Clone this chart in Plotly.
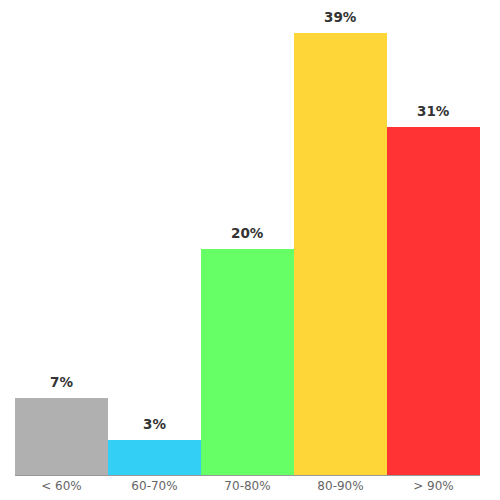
import plotly.graph_objects as go

# score bands and share of results (%)
bands = ["< 60%", "60-70%", "70-80%", "80-90%", "> 90%"]
shares = [6.8, 3.1, 20.0, 39.1, 30.8]
labels = ["7%", "3%", "20%", "39%", "31%"]
colors = ["#b0b0b0", "#33cff5", "#66ff66", "#ffd638", "#ff3333"]

fig = go.Figure(
    go.Bar(
        x=bands,
        y=shares,
        marker_color=colors,
        marker_line_width=0,
        hoverinfo="skip",
    )
)

# value labels sit a bit above each bar
for band, share, label in zip(bands, shares, labels):
    fig.add_annotation(
        x=band,
        y=share,
        text="<b>" + label + "</b>",
        showarrow=False,
        yanchor="bottom",
        yshift=6,
        font=dict(family="DejaVu Sans", size=13.5, color="#333333"),
    )

fig.update_xaxes(
    showline=True,
    linecolor="#999999",
    linewidth=1,
    showgrid=False,
    ticks="",
    tickfont=dict(family="DejaVu Sans", size=12, color="#666666"),
)
fig.update_yaxes(visible=False, range=[0, 39.54])
fig.update_layout(
    width=500,
    height=500,
    bargap=0,
    showlegend=False,
    plot_bgcolor="white",
    paper_bgcolor="white",
    margin=dict(l=7, r=28, t=20, b=33),
)

fig.write_html("out.html")
